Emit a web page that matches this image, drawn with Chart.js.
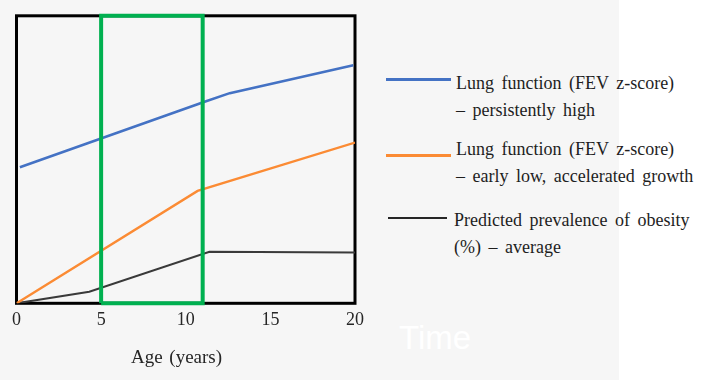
<!DOCTYPE html>
<html>
<head>
<meta charset="utf-8">
<script src="https://cdn.jsdelivr.net/npm/chart.js@4/dist/chart.umd.min.js"></script>
<style>
  html, body { margin: 0; padding: 0; }
  body { width: 708px; height: 380px; background: #ffffff; position: relative; overflow: hidden; }
  #bg { position: absolute; left: 0; top: 0; width: 619px; height: 380px; background: #f6f6f6; }
  #wrap { position: absolute; left: 0; top: 0; width: 370px; height: 380px; }
  .leg { position: absolute; font-family: "Liberation Serif", "Times New Roman", serif; font-size: 18px; line-height: 26.5px; color: #1e1e1e; word-spacing: 3px; white-space: nowrap; }
  .sw { position: absolute; }
  #xtitle { position: absolute; left: 116.5px; width: 120px; text-align: center; top: 344px; font-family: "Liberation Serif", "Times New Roman", serif; font-size: 19px; line-height: 26px; color: #262626; word-spacing: 2px; }
  #time { position: absolute; left: 399px; top: 318px; font-family: "Liberation Sans", Arial, sans-serif; font-size: 33px; color: #ffffff; line-height: 40px; }
</style>
</head>
<body>
<div id="bg"></div>
<div id="wrap"><canvas id="c"></canvas></div>
<div id="xtitle">Age (years)</div>

<div class="sw" style="left:386px;top:78px;width:65px;height:3px;background:#4472c4"></div>
<div class="leg" style="left:456px;top:70px">Lung function (FEV z-score)<br>– persistently high</div>

<div class="sw" style="left:386px;top:154px;width:65px;height:3px;background:#fb8b34"></div>
<div class="leg" style="left:456px;top:136px">Lung function (FEV z-score)<br>– early low, accelerated growth</div>

<div class="sw" style="left:388px;top:217px;width:59px;height:2px;background:#262626"></div>
<div class="leg" style="left:454px;top:207px">Predicted prevalence of obesity<br>(%) – average</div>

<div id="time">Time</div>

<script>
// Data (x = age in years, y = relative level 0-100)
const xTicks = [0, 5, 10, 15, 20];
const blueSeries = [[0.2, 47.3], [11.2, 70.3], [12.6, 73.1], [19.9, 82.8]];
const orangeSeries = [[0, 0], [10.7, 39.1], [20, 55.9]];
const blackSeries = [[0, 0], [4.3, 4.0], [11.4, 17.9], [20, 17.7]];
const highlightBox = [[5, 0], [5, 100], [11, 100], [11, 0], [5, 0]];
const seriesNames = [
  'Lung function (FEV z-score) – persistently high',
  'Lung function (FEV z-score) – early low, accelerated growth',
  'Predicted prevalence of obesity (%) – average'
];

const toPts = arr => arr.map(p => ({ x: p[0], y: p[1] }));

const frame = {
  id: 'frame',
  beforeDatasetsDraw(chart) {
    const a = chart.chartArea;
    const ctx = chart.ctx;
    ctx.save();
    ctx.strokeStyle = '#000000';
    ctx.lineWidth = 3;
    ctx.strokeRect(a.left, a.top, a.right - a.left, a.bottom - a.top);
    ctx.restore();
  }
};

new Chart(document.getElementById('c'), {
  type: 'line',
  data: {
    datasets: [
      { label: 'box', data: toPts(highlightBox), borderColor: '#00b050', borderWidth: 4, pointRadius: 0, tension: 0, fill: false, order: 0, clip: false, borderJoinStyle: 'miter' },
      { label: seriesNames[0], data: toPts(blueSeries), borderColor: '#4472c4', borderWidth: 2.6, pointRadius: 0, tension: 0, order: 1 },
      { label: seriesNames[1], data: toPts(orangeSeries), borderColor: '#fb8b34', borderWidth: 2.4, pointRadius: 0, tension: 0, order: 1 },
      { label: seriesNames[2], data: toPts(blackSeries), borderColor: '#3a3a3a', borderWidth: 2, pointRadius: 0, tension: 0, order: 1 }
    ]
  },
  options: {
    responsive: true,
    maintainAspectRatio: false,
    animation: false,
    layout: { padding: { left: 16.5, right: 13.5, top: 15.8, bottom: 0 } },
    plugins: { legend: { display: false }, tooltip: { enabled: false } },
    scales: {
      x: {
        type: 'linear',
        min: 0, max: 20,
        afterBuildTicks: s => { s.ticks = xTicks.map(v => ({ value: v })); },
        afterFit: s => { s.height = 76.7; },
        grid: { display: false, drawTicks: false },
        border: { display: false },
        ticks: { color: '#262626', padding: 6, maxRotation: 0, font: { family: '"Liberation Serif", "Times New Roman", serif', size: 18 } },
        title: { display: false }
      },
      y: { display: false, min: 0, max: 100 }
    }
  },
  plugins: [frame]
});
</script>
</body>
</html>
